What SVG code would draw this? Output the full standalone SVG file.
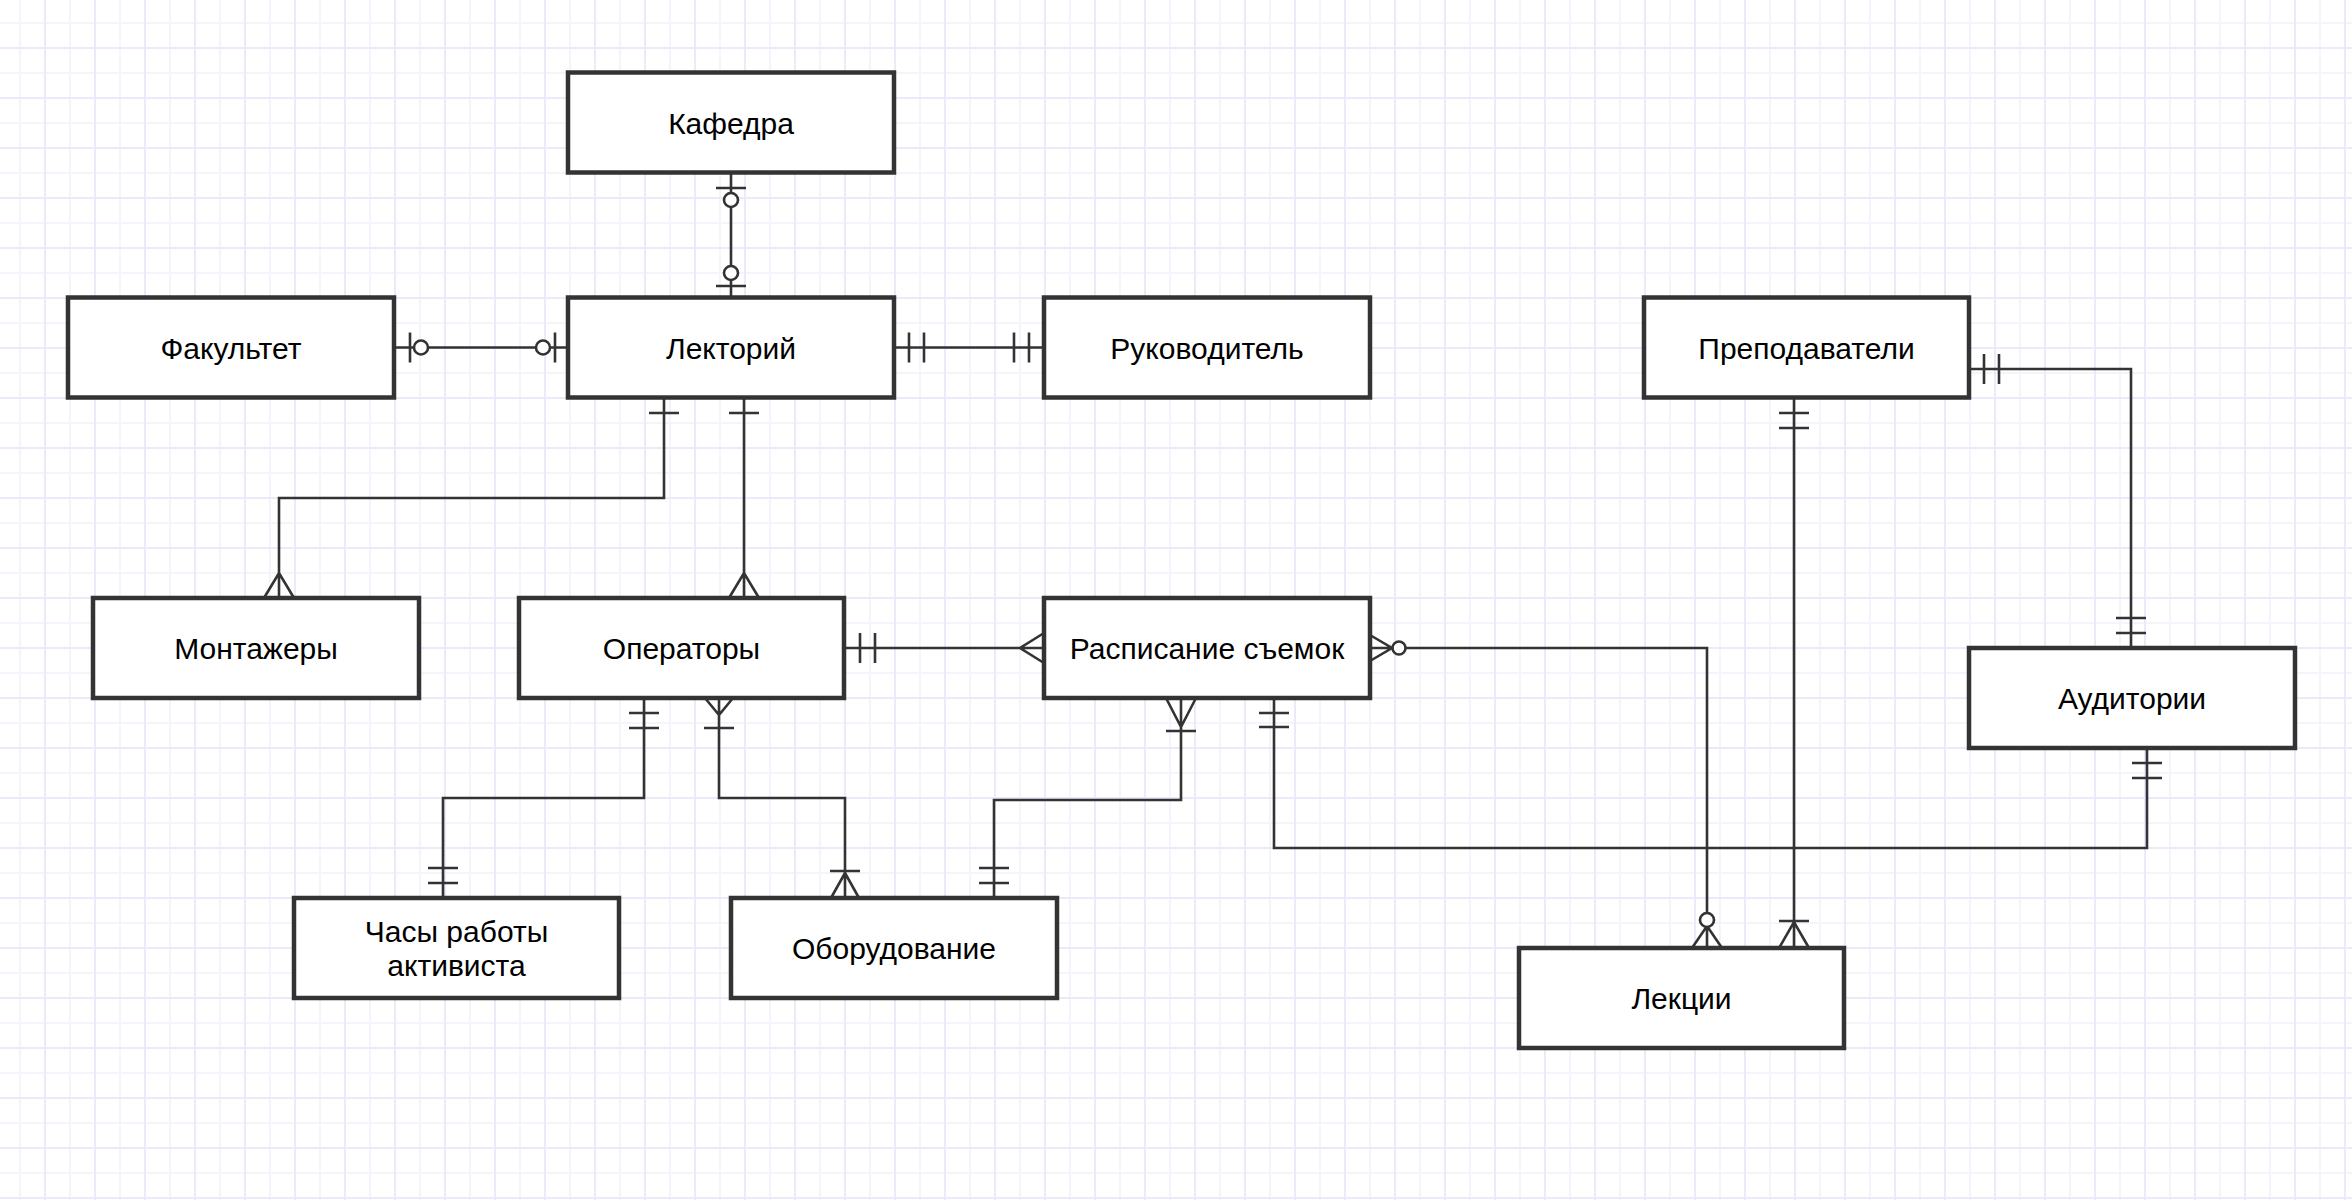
<svg xmlns="http://www.w3.org/2000/svg" width="2352" height="1200" viewBox="0 0 2352 1200">
<style>
.box{fill:#fff;stroke:#333;stroke-width:4.5}
.lbl{font-family:"Liberation Sans",Arial,sans-serif;font-size:30px;fill:#000;text-anchor:middle}
.ln{fill:none;stroke:#333;stroke-width:2.6}
.cir{fill:#fff;stroke:#333;stroke-width:2.6}
</style>
<defs>
<pattern id="grid" x="19" y="22" width="50" height="50" patternUnits="userSpaceOnUse">
<rect x="0" y="0" width="2" height="50" fill="#f4f4fd"/>
<rect x="0" y="0" width="50" height="2" fill="#f4f4fd"/>
<rect x="25" y="0" width="2" height="50" fill="#eaeafb"/>
<rect x="0" y="25" width="50" height="2" fill="#eaeafb"/>
</pattern>
</defs>
<rect width="2352" height="1200" fill="#fff"/>
<rect width="2352" height="1200" fill="url(#grid)"/>

<g id="connectors">
<!-- Кафедра - Лекторий -->
<path class="ln" d="M731,173V298M716,188H746M716,286H746"/>
<circle class="cir" cx="731" cy="200" r="7"/>
<circle class="cir" cx="731" cy="273" r="7"/>
<!-- Факультет - Лекторий -->
<path class="ln" d="M395,347.5H568M410,332.5V362.5M555,332.5V362.5"/>
<circle class="cir" cx="421" cy="347.5" r="7"/>
<circle class="cir" cx="543" cy="347.5" r="7"/>
<!-- Лекторий - Руководитель -->
<path class="ln" d="M894,347.5H1044M909,332.5V362.5M924,332.5V362.5M1014,332.5V362.5M1029,332.5V362.5"/>
<!-- Лекторий - Монтажеры -->
<path class="ln" d="M664,398V498H279V598M649,413H679M264,598L279,573L294,598"/>
<!-- Лекторий - Операторы -->
<path class="ln" d="M744,398V598M729,413H759M729,598L744,573L759,598"/>
<!-- Операторы - Расписание -->
<path class="ln" d="M844,648H1044M860,633V663M875,633V663M1044,633L1020,648L1044,663"/>
<!-- Расписание - Лекции -->
<path class="ln" d="M1370,648H1707V948M1370,635L1392,648L1370,661M1692,948L1707,926L1722,948"/>
<circle class="cir" cx="1399" cy="648" r="6.5"/>
<circle class="cir" cx="1707" cy="920" r="7"/>
<!-- Расписание - Оборудование -->
<path class="ln" d="M1181,698V800H994V898M1166,698L1181,727L1196,698M1166,731H1196M979,868H1009M979,883H1009"/>
<!-- Операторы - Часы работы -->
<path class="ln" d="M644,698V798H443V898M629,713H659M629,728H659M428,868H458M428,883H458"/>
<!-- Операторы - Оборудование -->
<path class="ln" d="M719,698V798H845V898M705,698L719,715L733,698M704,728H734M830,871H860M831,898L845,873L859,898"/>
<!-- Расписание - Аудитории -->
<path class="ln" d="M1274,698V848H2147V748M1259,713H1289M1259,727H1289M2132,763H2162M2132,778H2162"/>
<!-- Преподаватели - Лекции -->
<path class="ln" d="M1794,398V948M1779,413H1809M1779,428H1809M1779,921H1809M1779,948L1794,922L1809,948"/>
<!-- Преподаватели - Аудитории -->
<path class="ln" d="M1969,369H2131V648M1984,354V384M1999,354V384M2116,618H2146M2116,633H2146"/>
</g>

<g id="kafedra"><rect class="box" x="568" y="72.5" width="326" height="100"/><text class="lbl" x="731" y="133.5">Кафедра</text></g>
<g id="lektoriy"><rect class="box" x="568" y="297.5" width="326" height="100"/><text class="lbl" x="731" y="358.5">Лекторий</text></g>
<g id="fakultet"><rect class="box" x="68" y="297.5" width="326" height="100"/><text class="lbl" x="231" y="358.5">Факультет</text></g>
<g id="rukovoditel"><rect class="box" x="1044" y="297.5" width="326" height="100"/><text class="lbl" x="1207" y="358.5">Руководитель</text></g>
<g id="prepodavateli"><rect class="box" x="1644" y="297.5" width="325" height="100"/><text class="lbl" x="1806.5" y="358.5">Преподаватели</text></g>
<g id="montazhery"><rect class="box" x="93" y="598" width="326" height="100"/><text class="lbl" x="256" y="659">Монтажеры</text></g>
<g id="operatory"><rect class="box" x="519" y="598" width="325" height="100"/><text class="lbl" x="681.5" y="659">Операторы</text></g>
<g id="raspisanie"><rect class="box" x="1044" y="598" width="326" height="100"/><text class="lbl" x="1207" y="659">Расписание съемок</text></g>
<g id="auditorii"><rect class="box" x="1969" y="648" width="326" height="100"/><text class="lbl" x="2132" y="709">Аудитории</text></g>
<g id="chasy"><rect class="box" x="294" y="898" width="325" height="100"/><text class="lbl" x="456.5" y="942">Часы работы</text><text class="lbl" x="456.5" y="976">активиста</text></g>
<g id="oborudovanie"><rect class="box" x="731" y="898" width="326" height="100"/><text class="lbl" x="894" y="959">Оборудование</text></g>
<g id="lekcii"><rect class="box" x="1519" y="948" width="325" height="100"/><text class="lbl" x="1681.5" y="1009">Лекции</text></g>
</svg>
